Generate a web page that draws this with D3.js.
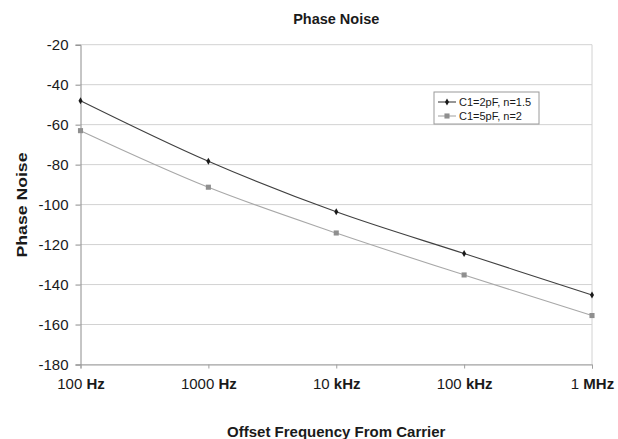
<!DOCTYPE html>
<html>
<head>
<meta charset="utf-8">
<script src="https://cdn.jsdelivr.net/npm/d3@7"></script>
<style>
  body { margin: 0; background: #fff; }
  text { font-family: "Liberation Sans", Arial, Helvetica, sans-serif; fill: #1a1a1a; }
</style>
</head>
<body>
<svg id="chart" width="618" height="439"></svg>
<script>
// Phase noise vs. offset frequency for two capacitor / slope settings
const categories = ["100 Hz", "1000 Hz", "10 kHz", "100 kHz", "1 MHz"];
const seriesNames = ["C1=2pF, n=1.5", "C1=5pF, n=2"];
const series1 = [-48, -78.3, -103.6, -124.5, -145.2];
const series2 = [-63, -91.3, -114.2, -135.2, -155.5];
const yTicks = [-20, -40, -60, -80, -100, -120, -140, -160, -180];

const svg = d3.select("#chart");
const plotLeft = 80.5, plotRight = 592, plotTop = 44.7, plotBottom = 364.5;

const x = d3.scalePoint().domain(categories).range([plotLeft, plotRight]);
const y = d3.scaleLinear().domain([-180, -20]).range([plotBottom, plotTop]);

// horizontal gridlines
svg.append("g")
  .selectAll("line")
  .data(yTicks)
  .join("line")
  .attr("x1", plotLeft).attr("x2", plotRight)
  .attr("y1", d => y(d)).attr("y2", d => y(d))
  .attr("stroke", "#d2d2d2").attr("stroke-width", 1);

// right frame edge
svg.append("line")
  .attr("x1", plotRight).attr("x2", plotRight)
  .attr("y1", plotTop).attr("y2", plotBottom)
  .attr("stroke", "#d2d2d2");

// y axis
const yAxis = svg.append("g")
  .attr("transform", `translate(${plotLeft},0)`)
  .call(d3.axisLeft(y).tickValues(yTicks).tickSize(5).tickPadding(7).tickFormat(d => String(d)));
yAxis.select(".domain").attr("stroke", "#8c8c8c");
yAxis.selectAll(".tick line").attr("stroke", "#8c8c8c");
yAxis.selectAll(".tick text")
  .style("font-size", "15px")
  .attr("fill", "#1a1a1a");

// x axis; the unit part of each label is set in bold
const xAxis = svg.append("g")
  .attr("transform", `translate(0,${plotBottom})`)
  .call(d3.axisBottom(x).tickSize(4).tickPadding(10));
xAxis.select(".domain").attr("stroke", "#a0a0a0");
xAxis.selectAll(".tick line").attr("stroke", "#a0a0a0");
xAxis.selectAll(".tick text")
  .style("font-size", "15px")
  .attr("fill", "#1a1a1a")
  .each(function(d) {
    const parts = d.split(" ");
    const t = d3.select(this).text(null);
    t.append("tspan").text(parts[0] + " ");
    t.append("tspan").style("font-weight", "bold").text(parts[1]);
  });

// smoothed series lines
const line = d3.line()
  .x((d, i) => x(categories[i]))
  .y(d => y(d))
  .curve(d3.curveCatmullRom.alpha(0.5));

const styles = [
  { line: "#404040", marker: "#1a1a1a", shape: d3.symbolDiamond, size: 14 },
  { line: "#a8a8a8", marker: "#8f8f8f", shape: d3.symbolSquare, size: 26 }
];
const allSeries = [series1, series2];

allSeries.forEach((vals, s) => {
  svg.append("path")
    .datum(vals)
    .attr("d", line)
    .attr("fill", "none")
    .attr("stroke", styles[s].line)
    .attr("stroke-width", 1.1);
  svg.append("g")
    .selectAll("path")
    .data(vals)
    .join("path")
    .attr("transform", (d, i) => `translate(${x(categories[i])},${y(d)})`)
    .attr("d", d3.symbol(styles[s].shape, styles[s].size))
    .attr("fill", styles[s].marker);
});

// legend
const legend = svg.append("g").attr("transform", "translate(434,92)");
legend.append("rect")
  .attr("width", 105).attr("height", 32)
  .attr("fill", "#fff").attr("stroke", "#9a9a9a").attr("stroke-width", 1);
seriesNames.forEach((name, s) => {
  const ly = 10 + s * 14;
  legend.append("line")
    .attr("x1", 4).attr("x2", 22).attr("y1", ly).attr("y2", ly)
    .attr("stroke", styles[s].line).attr("stroke-width", 1.1);
  legend.append("path")
    .attr("transform", `translate(13,${ly})`)
    .attr("d", d3.symbol(styles[s].shape, styles[s].size))
    .attr("fill", styles[s].marker);
  legend.append("text")
    .attr("x", 25).attr("y", ly + 4)
    .style("font-size", "11px")
    .text(name);
});

// titles
svg.append("text")
  .attr("x", (plotLeft + plotRight) / 2).attr("y", 24)
  .attr("text-anchor", "middle")
  .style("font-size", "14.5px").style("font-weight", "bold")
  .text("Phase Noise");

svg.append("text")
  .attr("x", (plotLeft + plotRight) / 2).attr("y", 437)
  .attr("text-anchor", "middle")
  .style("font-size", "15px").style("font-weight", "bold")
  .text("Offset Frequency From Carrier");

svg.append("text")
  .attr("transform", "translate(27,205) rotate(-90)")
  .attr("text-anchor", "middle")
  .style("font-size", "15px").style("font-weight", "bold")
  .attr("textLength", 105).attr("lengthAdjust", "spacingAndGlyphs")
  .text("Phase Noise");
</script>
</body>
</html>
